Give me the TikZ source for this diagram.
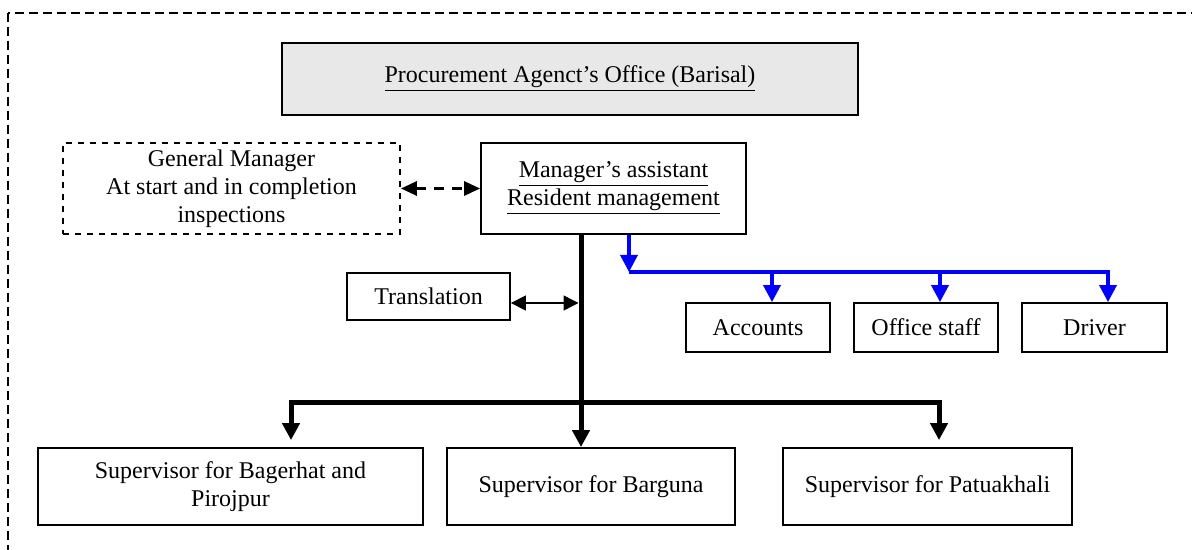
\documentclass[tikz,border=0pt]{standalone}
\usepackage{fontspec}
\setmainfont{Liberation Serif}
\usetikzlibrary{arrows.meta}
\definecolor{procgray}{HTML}{E8E8E8}
\definecolor{linkblue}{RGB}{0,0,255}
\tikzset{
  box/.style={draw,line width=0.9pt,align=center,inner sep=2pt,font=\fontsize{12}{14}\selectfont},
  trunkline/.style={line width=2.5pt},
  bigtip/.style={-{Triangle[length=8.5pt,width=8.5pt]}},
  blueline/.style={draw=linkblue,line width=1.75pt},
  bluetip/.style={-{Triangle[length=8.5pt,width=8.5pt]},linkblue},
  thinarrow/.style={line width=0.75pt,{Triangle[length=7.5pt,width=7.5pt]}-{Triangle[length=7.5pt,width=7.5pt]}},
  dasharrow/.style={line width=1.5pt,dash pattern=on 5pt off 4pt,{Triangle[length=8pt,width=7pt]}-{Triangle[length=8pt,width=7pt]}}
}
\begin{document}
\begin{tikzpicture}[x=0.5pt,y=-0.5pt]
\useasboundingbox (0,0) rectangle (1192,550);
\clip (0,0) rectangle (1192,550);

%frame
\draw [line width=1pt,dash pattern=on 4.5pt off 2.5pt] (8,13) rectangle (1220,580);

%office
\node[box,fill=procgray,minimum width=288pt,minimum height=36pt] (proc) at (570,79)
  {\underline{Procurement Agenct's Office (Barisal)}};

%general manager
\node[box,dashed,minimum width=168.5pt,minimum height=45.5pt] (gm) at (231.5,188.5)
  {General Manager\\At start and in completion\\inspections};

%manager's assistant
\node[box,minimum width=132.5pt,minimum height=45.5pt] (ma) at (613.5,188.5)
  {\underline{Manager's assistant}\\\underline{Resident management}};
\draw [dasharrow] (gm) -- (ma);

%translation
\node[box,minimum width=81.5pt,minimum height=23.5pt] (trans) at (428.5,296.5) {Translation};

%staff
\node[box,minimum width=72pt,minimum height=24.5pt] (acc) at (758,327.5) {Accounts};
\node[box,minimum width=72pt,minimum height=24.5pt] (staff) at (926,327.5) {Office staff};
\node[box,minimum width=72.5pt,minimum height=24.5pt] (drv) at (1094.5,327.5) {Driver};

%supervisors
\node[box,minimum width=192.5pt,minimum height=38.5pt] (bag) at (230.5,486.5)
  {Supervisor for Bagerhat and\\Pirojpur};
\node[box,minimum width=144pt,minimum height=38.5pt] (barg) at (591,486.5) {Supervisor for Barguna};
\node[box,minimum width=144.5pt,minimum height=38.5pt] (pat) at (927.5,486.5) {Supervisor for Patuakhali};

%trunk
\coordinate (trunk) at ([xshift=-16.25pt]ma.south);
\coordinate (busL) at (291,402);
\coordinate (busR) at (939,402);
\draw [trunkline,bigtip] (trunk) -- (trunk |- barg.north);
\draw [trunkline,{Triangle[length=8.5pt,width=8.5pt]}-{Triangle[length=8.5pt,width=8.5pt]},shorten <=3.5pt,shorten >=3.5pt]
  (busL |- bag.north) -- (busL) -- (busR) -- (busR |- pat.north);
\draw [thinarrow,shorten >=1.25pt] ([yshift=-3.25pt]trans.east) -- ([yshift=-3.25pt]trans.east -| trunk);

%blue branch
\coordinate (btop) at ([xshift=7.75pt]ma.south);
\coordinate (bcorner) at (629,272);
\draw [blueline,bluetip] (btop) -- (bcorner);
\draw [blueline,bluetip] (bcorner) -- ([xshift=6.75pt]drv.north |- bcorner) -- ([xshift=6.75pt]drv.north);
\draw [blueline,bluetip] ([xshift=7pt]acc.north |- bcorner) -- ([xshift=7pt]acc.north);
\draw [blueline,bluetip] ([xshift=7pt]staff.north |- bcorner) -- ([xshift=7pt]staff.north);
\end{tikzpicture}
\end{document}
